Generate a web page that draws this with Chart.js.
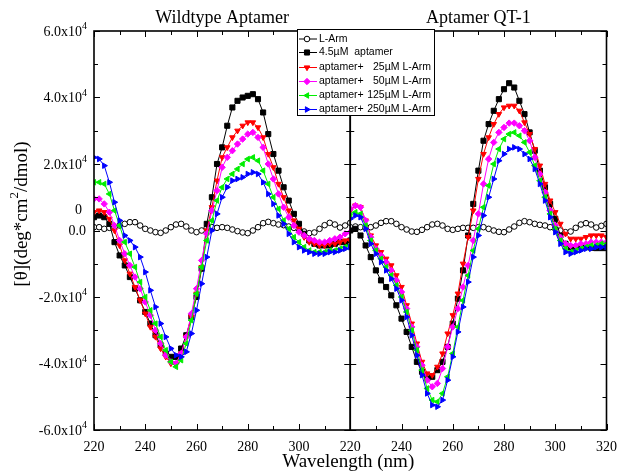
<!DOCTYPE html>
<html>
<head>
<meta charset="utf-8">
<script src="https://cdn.jsdelivr.net/npm/chart.js@4.4.0/dist/chart.umd.min.js"></script>
<style>
  html, body { margin: 0; padding: 0; background: #fff; }
  #wrap { width: 626px; height: 473px; }
</style>
</head>
<body>
<div id="wrap"><canvas id="cd" width="626" height="473"></canvas></div>
<script>
// wavelength (nm), sampled every 2 nm
const wavelengths = [220,222,224,226,228,230,232,234,236,238,240,242,244,246,248,250,252,254,256,258,
  260,262,264,266,268,270,272,274,276,278,280,282,284,286,288,290,292,294,296,298,
  300,302,304,306,308,310,312,314,316,318,320];

// molar ellipticity in units of 10^3 deg*cm2/dmol
// Wildtype Aptamer panel
const wtLArm = [1,1,0.5,0.8,1,1.5,2,2.5,2.5,1.5, 0.5,0,-0.5,-0.7,0,1,1.8,2,1.2,0,
  -0.5,0,0.8,1,0.8,1,0.8,0.3,-0.2,-0.6, -0.8,0,1,2.2,2.6,2.2,1.8,1.6,1.2,0.8,
  0.4,-0.3,-0.8,-0.6,0.5,1.6,2.3,1.8,0.9,1.5, 2.3];
const wtAptamer = [4,4.5,4,2,-3.5,-7.5,-10.5,-14,-17.5,-21, -24.5,-28,-31.5,-34.5,-37,-38,-38,-35.5,-31.5,-26,
  -20,-11.5,2,10,20,25,31.5,37,39,40, 40.5,41,39.5,35.5,29,23,18,13,9,5,
  2,-1,-3,-4,-4.5,-4.5,-4.5,-4,-3.5,-3.5, -3];
const wt25 = [5.5,6,5.5,3.5,0,-4.5,-9,-13,-17,-21, -25,-29,-32,-35.5,-38,-40,-40,-37,-32,-26,
  -19,-11,0,7,15,22,25,28,30,31.5, 32.5,32.5,31,28,23,19,14,10,6,3,
  0.5,-2,-3.5,-4,-4.5,-4.5,-4,-4,-3.5,-3, -3];
const wt50 = [9.5,9.5,8,5.5,1.5,-3,-7,-10.5,-14,-17.5, -21.5,-25.5,-30,-34,-37.5,-39.5,-40,-37,-32,-25,
  -17.5,-9,-1,6,12,19,22,24,26,27.5, 29,29.5,28,25,20,15.5,11,7,4,1.5,
  -0.5,-1.5,-2.5,-3,-3.5,-3.5,-3,-2.5,-2,-1, -0.5];
const wt125 = [14.5,14.5,14,11,6,1.5,-3.5,-7,-11,-15.5, -20,-24,-28,-32,-36,-39.5,-41,-39,-34,-27,
  -19,-11,-3,3,9,13,15.5,17,18.5,20, 21.5,22,21,18,14,10,6.5,3,0.5,-2,
  -3.5,-5,-6,-6.5,-6.5,-6.5,-6,-6,-5.5,-5, -4.5];
const wt250 = [22,21.5,19.5,14.5,8.5,3,-1.5,-3,-5,-8, -12.5,-18,-23,-28,-32,-35.5,-37.5,-38,-36.5,-31,
  -24,-16,-8,0,5,10,13,15,15.5,16, 17,17.5,17,14.5,11,8,4.5,2,-1,-3.5,
  -5,-6,-6.5,-7,-7,-7,-6.5,-6.5,-6,-5.5, -5];

// Aptamer QT-1 panel
const qtLArm = [1,1.2,1,0.8,1,1.5,2.3,2.8,2.8,2, 1,0.3,-0.3,-0.4,0.2,1,1.8,2,1.5,0.5,
  0.2,0.5,0.8,0.8,0.8,1,1,0.5,0,-0.4, -0.5,0.3,1.2,2.3,2.8,2.5,2,1.7,1.5,1,
  0.5,0,-0.5,-0.3,0.8,1.8,2.2,1.8,0.9,1.4, 2];
const qtAptamer = [0,0.5,-1.5,-4.5,-8,-12,-15,-17,-19.5,-22.5, -26.5,-30.5,-35,-39.5,-42.5,-44.5,-44,-42,-39.5,-35,
  -28,-20.5,-12,-1.5,8,18,27,32,36,39.5, 42.5,44.3,43,39,35,29.5,24,18,13,8,
  3.5,-1.5,-4,-5,-5,-5,-4.8,-5.2,-5.3,-5.3, -5.3];
const qt25 = [6,7.5,7,3,-1.5,-4.5,-6.5,-8.5,-10.5,-13.5, -17,-22.5,-28,-34,-39.5,-43,-43.5,-41,-37,-31,
  -25.5,-19,-10,-2,6,15.5,23,28,32,35, 37,37.5,37.5,36,32.5,29,24.5,19.5,14,9,
  5.5,2,-1,-2.5,-2.5,-2.5,-2,-1.5,-1.5,-1.5, -2];
const qt50 = [6.5,7.5,7,3,-2,-5.5,-7.5,-9.5,-12,-15, -18.5,-23.5,-29,-35,-40.5,-45,-47,-46,-41.5,-35,
  -29,-23.5,-17,-10.5,-3,5,14,21.5,26.5,29.5, 31,32.3,32.3,31.5,30,27,22,17,11.5,6,
  1.5,-2,-4,-4.5,-4.5,-4,-4,-3.5,-3.5,-3.5, -3.5];
const qt125 = [4.5,5.5,5,1.5,-3,-6,-8.5,-11,-13.5,-16.5, -20,-24.5,-30,-36,-42,-47.5,-51,-51.5,-49,-44,
  -37,-29,-21,-13.5,-6,0.5,7,13.5,20,24.5, 27.5,29,29.5,28.5,26.5,23.5,19.5,15,10,5,
  0.5,-3,-5.5,-6.5,-6,-5.5,-5,-4.5,-4.5,-4, -4];
const qt250 = [3.5,4.5,4,0.5,-4,-7,-9.5,-12,-14.5,-17.5, -21,-26,-31.5,-37.5,-43.5,-49,-52.5,-53,-51,-45,
  -38,-30.5,-23,-15.5,-8,-1.5,4.5,10,15.5,21, 23,24.5,25,24.5,23,21.5,18.5,14,9,4,
  -0.5,-4,-6.5,-7,-6.5,-6,-5.5,-5.5,-5,-5, -5];

const panelTitles = ["Wildtype Aptamer", "Aptamer QT-1"];
const seriesNames = ["L-Arm", "4.5\u00b5M  aptamer", "aptamer+", "aptamer+", "aptamer+", "aptamer+"];
const seriesConc = ["", "", "25\u00b5M L-Arm", "50\u00b5M L-Arm", "125\u00b5M L-Arm", "250\u00b5M L-Arm"];
const yMajorTicks = [60, 40, 20, 0, -20, -40, -60];

// styles per series
const colors = ["#000000", "#000000", "#ff0000", "#ff00ff", "#00ee00", "#0000ff"];
const fills = ["#ffffff", "#000000", "#ff0000", "#ff00ff", "#00ee00", "#0000ff"];
const shapes = ["circle", "rect", "triangle", "rectRot", "triangle", "triangle"];
const rotations = [0, 0, 180, 0, 270, 90];
const radii = [2.8, 3.6, 3.2, 3.2, 3.2, 3.2];

const SERIF = '"Liberation Serif", "Times New Roman", serif';
const SANS = '"Liberation Sans", Arial, sans-serif';

function makeSet(values, i, axis) {
  return {
    label: seriesNames[i] + " " + seriesConc[i],
    data: wavelengths.map((w, k) => ({ x: w, y: values[k] })),
    xAxisID: axis,
    yAxisID: "y",
    borderColor: colors[i],
    backgroundColor: fills[i],
    borderWidth: 1,
    pointStyle: shapes[i],
    rotation: rotations[i],
    pointRadius: radii[i],
    pointBorderColor: colors[i],
    pointBackgroundColor: fills[i],
    pointBorderWidth: 1,
    tension: 0,
    order: 5 - i,
  };
}

const leftSeries = [wtLArm, wtAptamer, wt25, wt50, wt125, wt250];
const rightSeries = [qtLArm, qtAptamer, qt25, qt50, qt125, qt250];
const datasets = [];
leftSeries.forEach((s, i) => datasets.push(makeSet(s, i, "x1")));
rightSeries.forEach((s, i) => datasets.push(makeSet(s, i, "x2")));

// text with a raised exponent
function drawSup(ctx, base, sup, tail, x, y, size, align) {
  const f1 = size + "px " + SERIF, f2 = Math.round(size * 0.68) + "px " + SERIF;
  ctx.font = f1; const wb = ctx.measureText(base).width; const wt = ctx.measureText(tail).width;
  ctx.font = f2; const ws = ctx.measureText(sup).width;
  const total = wb + ws + wt;
  let x0 = align === "right" ? x - total : align === "center" ? x - total / 2 : x;
  ctx.textAlign = "left";
  ctx.textBaseline = "middle";
  ctx.font = f1; ctx.fillText(base, x0, y);
  ctx.font = f2; ctx.fillText(sup, x0 + wb, y - size * 0.38);
  ctx.font = f1; ctx.fillText(tail, x0 + wb + ws, y);
}

const framePlugin = {
  id: "frame",
  afterDraw(chart) {
    const { ctx, chartArea: a, scales } = chart;
    const y = scales.y, panels = [scales.x1, scales.x2];
    ctx.save();
    ctx.strokeStyle = "#000";
    ctx.fillStyle = "#000";

    // inside ticks
    ctx.lineWidth = 1;
    ctx.beginPath();
    panels.forEach(s => {
      for (let v = 220; v <= 320; v += 10) {
        const px = Math.round(s.getPixelForValue(v)) + 0.5, len = v % 20 === 0 ? 6 : 4;
        ctx.moveTo(px, a.bottom); ctx.lineTo(px, a.bottom - len);
        ctx.moveTo(px, a.top); ctx.lineTo(px, a.top + len);
      }
      for (let v = -60; v <= 60; v += 10) {
        const py = Math.round(y.getPixelForValue(v)) + 0.5, len = v % 20 === 0 ? 6 : 4;
        ctx.moveTo(s.left, py); ctx.lineTo(s.left + len, py);
        ctx.moveTo(s.right, py); ctx.lineTo(s.right - len, py);
      }
    });
    ctx.stroke();

    // panel frames
    ctx.lineWidth = 1.6;
    panels.forEach(s => ctx.strokeRect(s.left, a.top, s.right - s.left, a.bottom - a.top));

    // y tick labels
    yMajorTicks.forEach(v => {
      const py = y.getPixelForValue(v) + 1;
      if (v === 0) {
        ctx.font = "14px " + SERIF; ctx.textAlign = "right"; ctx.textBaseline = "middle";
        ctx.fillText("0.0", 86, py);
      } else {
        drawSup(ctx, (v / 10).toFixed(1) + "x10", "4", "", 87, py, 14, "right");
      }
    });
    // stray "0" label above the zero line
    ctx.font = "14px " + SERIF; ctx.textAlign = "right"; ctx.textBaseline = "middle";
    ctx.fillText("0", 82, y.getPixelForValue(6.2));

    // panel titles
    ctx.font = "18px " + SERIF; ctx.textAlign = "center"; ctx.textBaseline = "middle";
    panels.forEach((s, i) => ctx.fillText(panelTitles[i], (s.left + s.right) / 2, 18));

    // axis titles
    ctx.font = "19px " + SERIF;
    ctx.fillText("Wavelength (nm)", a.left + (a.right - a.left) / 2 - 2, 462);
    ctx.save();
    ctx.translate(22, 214);
    ctx.rotate(-Math.PI / 2);
    drawSup(ctx, "[\u03b8](deg*cm", "2", "/dmol)", 0, 0, 19, "center");
    ctx.restore();

    // legend
    const lx = 297, ly = 29, lw = 137, lh = 86;
    ctx.fillStyle = "#fff";
    ctx.fillRect(lx, ly, lw, lh);
    ctx.lineWidth = 1;
    ctx.strokeStyle = "#000";
    ctx.strokeRect(lx + 0.5, ly + 0.5, lw, lh);
    const rows = [39, 52.5, 67.5, 81.5, 95.5, 109.5];
    rows.forEach((ry, i) => {
      ctx.strokeStyle = colors[i];
      ctx.lineWidth = 1;
      ctx.beginPath(); ctx.moveTo(299, ry); ctx.lineTo(317, ry); ctx.stroke();
      ctx.fillStyle = fills[i];
      Chart.helpers.drawPoint(ctx, {
        pointStyle: shapes[i], rotation: rotations[i], radius: radii[i], borderWidth: 1,
      }, 307, ry);
      ctx.fillStyle = "#000";
      ctx.font = "10.5px " + SANS; ctx.textBaseline = "middle"; ctx.textAlign = "left";
      ctx.fillText(seriesNames[i], 319, ry);
      if (seriesConc[i]) { ctx.textAlign = "right"; ctx.fillText(seriesConc[i], 431, ry); }
    });
    ctx.restore();
  },
};

function xAxis(skipLast) {
  return {
    type: "linear",
    position: "bottom",
    stack: "wl",
    stackWeight: 1,
    min: 220,
    max: 320,
    grid: { display: false, drawTicks: false },
    border: { display: false },
    ticks: {
      stepSize: 10,
      autoSkip: false,
      maxRotation: 0,
      padding: 9,
      color: "#000",
      font: { family: SERIF, size: 14 },
      callback: v => (v % 20 === 0 && !(skipLast && v === 320)) ? String(v) : "",
    },
    afterFit: s => { s.height = 43; },
  };
}

new Chart(document.getElementById("cd"), {
  type: "line",
  data: { datasets },
  options: {
    responsive: false,
    animation: false,
    devicePixelRatio: 1,
    layout: { padding: { left: 0, top: 31, right: 10, bottom: 0 } },
    plugins: { legend: { display: false }, tooltip: { enabled: false } },
    scales: {
      x1: xAxis(true),
      x2: xAxis(false),
      y: {
        type: "linear",
        position: "left",
        min: -60,
        max: 60,
        grid: { display: false, drawTicks: false },
        border: { display: false },
        ticks: { display: false, stepSize: 10 },
        afterFit: s => { s.width = 94; },
      },
    },
  },
  plugins: [framePlugin],
});
</script>
</body>
</html>
